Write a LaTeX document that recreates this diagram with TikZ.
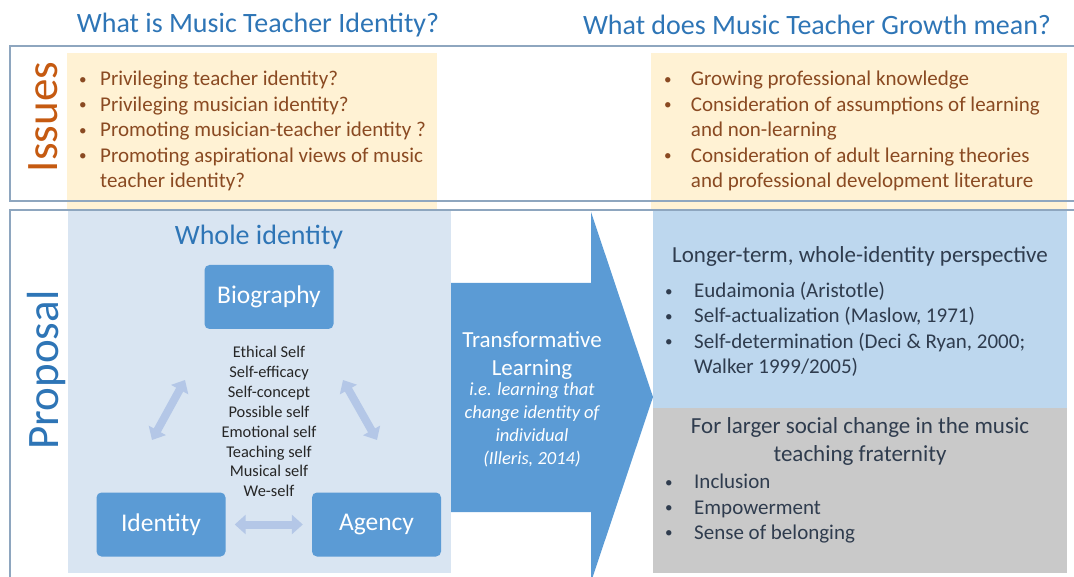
\documentclass[tikz,border=0pt]{standalone}
\usepackage{fontspec}
\setmainfont{Carlito}
\usetikzlibrary{arrows.meta}
\definecolor{headblue}{HTML}{2E75B6}
\definecolor{issueorange}{HTML}{C55A11}
\definecolor{issuebrown}{HTML}{8A4A22}
\definecolor{paleyellow}{HTML}{FFF2D4}
\definecolor{framegray}{HTML}{8EA6BF}
\definecolor{wholeblue}{HTML}{D9E5F2}
\definecolor{boxblue}{HTML}{5B9BD5}
\definecolor{linkblue}{HTML}{B4C7E7}
\definecolor{longblue}{HTML}{BDD7EE}
\definecolor{socialgray}{HTML}{C9C9C9}
\definecolor{navytext}{HTML}{2F3C4E}
\newcommand{\itembul}[1][21pt]{\makebox[#1][l]{\raisebox{0.07em}{\scalebox{0.72}{\textbullet}}}}
\newcommand{\itemcont}[1][21pt]{\hspace*{#1}}
\begin{document}
\begin{tikzpicture}[x=1pt, y=-1pt,
    heading/.style={font=\fontsize{28}{34}\selectfont, text=headblue, inner sep=0},
    sidelabel/.style={font=\fontsize{45}{50}\selectfont, rotate=90, inner sep=0},
    issuelist/.style={font=\fontsize{21}{25.5}\selectfont, text=issuebrown,
        align=left, anchor=north west, inner sep=0},
    pointlist/.style={font=\fontsize{21}{25.3}\selectfont, text=navytext,
        align=left, anchor=north west, inner sep=0},
    block/.style={rectangle, rounded corners=5pt, fill=boxblue, text=white,
        minimum width=129pt, minimum height=64pt, font=\fontsize{25.5}{30}\selectfont},
    link/.style={draw=linkblue, line width=8pt,
        {Triangle[width=19pt,length=11pt]}-{Triangle[width=19pt,length=11pt]}},
    frame/.style={draw=framegray, line width=1.6pt}
]
    \useasboundingbox (0,0) rectangle (1074,577);
    \clip (0,0) rectangle (1074,577);
    \fill[paleyellow] (67,53) rectangle (437,209);
    \fill[paleyellow] (651,53) rectangle (1067,209);
    \fill[wholeblue] (68,211) rectangle (451,573);
    \fill[longblue] (653,211) rectangle (1067,408);
    \fill[socialgray] (653,408) rectangle (1067,573);
    \draw[frame] (10,46) rectangle (1090,201);
    \draw[frame] (10,210) rectangle (1090,600);
    \fill[boxblue] (451,283) -- (591,283) -- (591,212) -- (653,397)
        -- (591,582) -- (591,512) -- (451,512) -- cycle;

    \node[heading] (identityq) at (258,25) {What is Music Teacher Identity?};
    \node[heading] (growthq) at (817,25) {What does Music Teacher Growth mean?};
    \node[sidelabel, text=issueorange] (issues) at (43,117) {Issues};
    \node[sidelabel, text=headblue] (proposal) at (47,370) {Proposal};

    \node[issuelist] (identityissues) at (79,71) {%
        \itembul Privileging teacher identity?\\
        \itembul Privileging musician identity?\\
        \itembul Promoting musician-teacher identity ?\\
        \itembul Promoting aspirational views of music\\
        \itemcont teacher identity?};
    \node[issuelist] (growthissues) at (664,71) {%
        \itembul[22pt] Growing professional knowledge\\
        \itembul[22pt] Consideration of assumptions of learning\\
        \itemcont[22pt] and non-learning\\
        \itembul[22pt] Consideration of adult learning theories\\
        \itemcont[22pt] and professional development literature};

    \node[heading] (whole) at (259,237) {Whole identity};
    \node[block] (biography) at (269,297) {Biography};
    \node[block] (identity) at (161,524.5) {Identity};
    \node[block] (agency) at (376.5,524.5) {Agency};
    \node[anchor=north, align=center, inner sep=0,
        font=\fontsize{16.4}{19.9}\selectfont, text=black!85] (selves) at (269,346) {%
        Ethical Self\\Self-efficacy\\Self-concept\\Possible self\\
        Emotional self\\Teaching self\\Musical self\\We-self};
    \coordinate (leftlow) at (152,440);
    \coordinate (lefthigh) at (185,380);
    \coordinate (righthigh) at (343,380);
    \coordinate (rightlow) at (377,440);
    \draw[link] (leftlow) -- (lefthigh);
    \draw[link] (righthigh) -- (rightlow);
    \draw[link, shorten <=9pt, shorten >=9pt] (identity) -- (agency);

    \node[anchor=north, align=center, inner sep=0, text=white,
        font=\fontsize{23}{28}\selectfont] (transform) at (532,331) {Transformative\\Learning};
    \node[anchor=north, align=center, inner sep=0, text=white,
        font=\itshape\fontsize{18.5}{23.3}\selectfont] (illeris) at (532,382) {%
        i.e. learning that\\change identity of\\individual\\(Illeris, 2014)};

    \node[font=\fontsize{23}{28}\selectfont, text=navytext, inner sep=0] (longer) at (860,256)
        {Longer-term, whole-identity perspective};
    \node[pointlist] (longpoints) at (665,282) {%
        \itembul[29pt]Eudaimonia (Aristotle)\\
        \itembul[29pt]Self-actualization (Maslow, 1971)\\
        \itembul[29pt]Self-determination (Deci \& Ryan, 2000;\\
        \itemcont[29pt]Walker 1999/2005)};
    \node[font=\fontsize{23}{27.5}\selectfont, text=navytext, align=center, inner sep=0]
        (social) at (860,441.5) {For larger social change in the music\\teaching fraternity};
    \node[pointlist] (socialpoints) at (665,474) {%
        \itembul[29pt]Inclusion\\
        \itembul[29pt]Empowerment\\
        \itembul[29pt]Sense of belonging};
\end{tikzpicture}
\end{document}
